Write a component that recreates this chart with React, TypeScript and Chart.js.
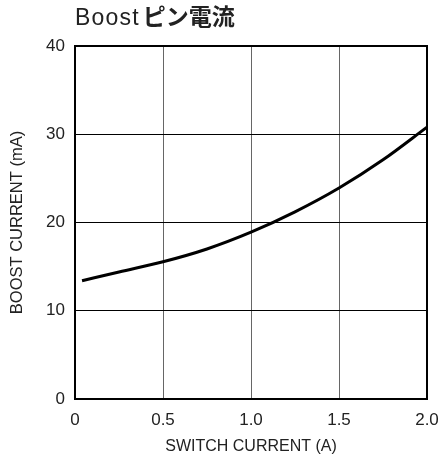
import React, { useEffect, useRef } from "react";
import { Chart, registerables } from "chart.js";

Chart.register(...registerables);

const switchCurrent = [0.04, 0.25, 0.5, 0.75, 1.0, 1.25, 1.5, 1.75, 2.0];
const boostCurrent = [13.4, 14.4, 15.55, 17.0, 18.9, 21.2, 23.9, 27.1, 30.8];
const xTicks = [0, 0.5, 1.0, 1.5, 2.0];
const yTicks = [0, 10, 20, 30, 40];
const titleLatin = "Boost";
const titleCJK = "ピン電流";
const xTitle = "SWITCH CURRENT (A)";
const yTitle = "BOOST CURRENT (mA)";

export default function App() {
  const ref = useRef<HTMLCanvasElement | null>(null);
  useEffect(() => {
    if (!ref.current) return;
    const family = "'Liberation Sans', Arial, sans-serif";
    const tickFont = { family, size: 17 };
    const titleFont = { family, size: 16 };
    const chart = new Chart(ref.current, {
      type: "scatter",
      data: {
        datasets: [
          {
            data: switchCurrent.map((x, i) => ({ x, y: boostCurrent[i] })),
            showLine: true,
            borderColor: "#000",
            borderWidth: 3,
            pointRadius: 0,
            cubicInterpolationMode: "monotone",
            fill: false,
          },
        ],
      },
      options: {
        animation: false,
        responsive: false,
        maintainAspectRatio: false,
        layout: { padding: { left: 0, right: 18, top: 46, bottom: 0 } },
        plugins: { legend: { display: false }, tooltip: { enabled: false } },
        scales: {
          x: {
            type: "linear",
            min: 0,
            max: 2,
            afterFit: (s: any) => {
              s.height = 61;
              s.paddingLeft = 0;
              s.paddingRight = 0;
            },
            afterBuildTicks: (s: any) => {
              s.ticks = xTicks.map((v) => ({ value: v }));
            },
            ticks: {
              color: "#222",
              font: tickFont,
              padding: 11,
              maxRotation: 0,
              callback: (v: any) => (v === 0 ? "0" : Number(v).toFixed(1)),
            },
            grid: { color: "#666", lineWidth: 1, drawTicks: false },
            border: { color: "#000", width: 2 },
            title: {
              display: true,
              text: xTitle,
              color: "#222",
              font: titleFont,
              padding: { top: 0, bottom: 4 },
            },
          },
          y: {
            type: "linear",
            min: 0,
            max: 40,
            afterFit: (s: any) => {
              s.width = 75;
              s.paddingTop = 0;
              s.paddingBottom = 0;
            },
            afterBuildTicks: (s: any) => {
              s.ticks = yTicks.map((v) => ({ value: v }));
            },
            ticks: { color: "#222", font: tickFont, padding: 10 },
            grid: { color: "#000", lineWidth: 1, drawTicks: false },
            border: { color: "#000", width: 2 },
            title: {
              display: true,
              text: yTitle,
              color: "#222",
              font: { family, size: 16.5 },
              padding: { top: 8, bottom: 8 },
            },
          },
        },
      },
      plugins: [
        {
          id: "frame",
          afterDraw: (c: any) => {
            const { ctx, chartArea: a } = c;
            ctx.save();
            ctx.strokeStyle = "#000";
            ctx.lineWidth = 2;
            ctx.strokeRect(a.left, a.top, a.right - a.left, a.bottom - a.top);
            ctx.restore();
          },
        },
      ],
    });
    return () => chart.destroy();
  }, []);

  return (
    <div style={{ position: "fixed", left: 0, top: 0, width: 445, height: 460, background: "#fff" }}>
      <div
        style={{
          position: "absolute",
          left: 75,
          top: 0,
          fontSize: 23,
          lineHeight: "30px",
          color: "#222",
          whiteSpace: "nowrap",
        }}
      >
        <span style={{ fontFamily: "'Liberation Sans', Arial, sans-serif", letterSpacing: 1.2 }}>{titleLatin}</span>
        <span style={{ fontFamily: "'Noto Sans CJK JP', sans-serif", fontWeight: 700, marginLeft: 3 }}>{titleCJK}</span>
      </div>
      <canvas ref={ref} width={445} height={460} style={{ display: "block" }} />
    </div>
  );
}
